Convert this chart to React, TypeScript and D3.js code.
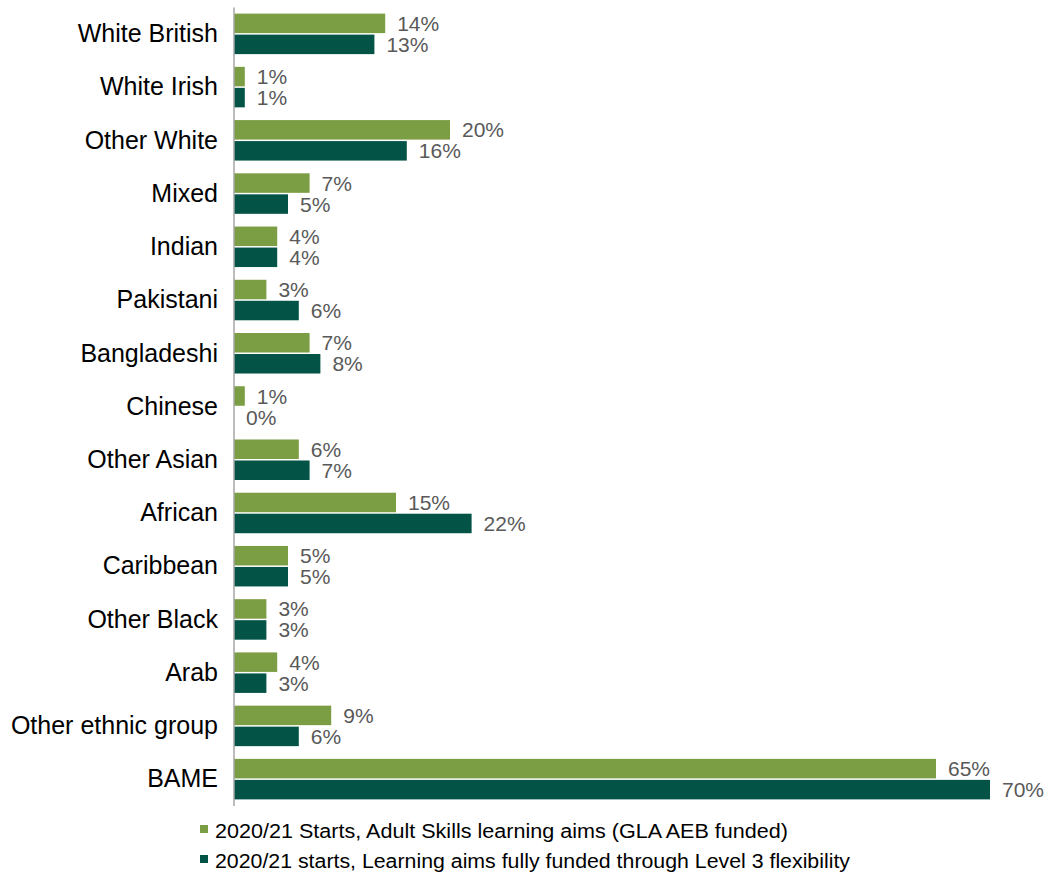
import React from "react";
import * as d3 from "d3";

const categories = [
  "White British", "White Irish", "Other White", "Mixed", "Indian", "Pakistani",
  "Bangladeshi", "Chinese", "Other Asian", "African", "Caribbean", "Other Black",
  "Arab", "Other ethnic group", "BAME",
];
const adultSkills = [14, 1, 20, 7, 4, 3, 7, 1, 6, 15, 5, 3, 4, 9, 65];
const level3 = [13, 1, 16, 5, 4, 6, 8, 0, 7, 22, 5, 3, 3, 6, 70];
const seriesNames = [
  "2020/21 Starts, Adult Skills learning aims (GLA AEB funded)",
  "2020/21 starts, Learning aims fully funded through Level 3 flexibility",
];
const legendWidths = [573, 635];
const colors = ["#7B9D43", "#035446"];

export default function App() {
  const W = 1047, H = 877;
  const x0 = 234;
  const x = d3.scaleLinear().domain([0, 70]).range([x0, 990]);
  const y = d3.scaleBand<string>().domain(categories).range([7.5, 806]).padding(0);
  const font = "Arial, 'Liberation Sans', sans-serif";
  const barH = 19.5;
  return (
    <svg width={W} height={H} style={{ position: "absolute", left: 0, top: 0, display: "block" }} fontFamily={font}>
      <rect width={W} height={H} fill="#fff" />
      {categories.map((c, i) => {
        const cy = (y(c) as number) + y.bandwidth() / 2;
        const vals = [adultSkills[i], level3[i]];
        return (
          <g key={c}>
            <text x={218} y={cy + 8} textAnchor="end" fontSize={25} fill="#000">{c}</text>
            {vals.map((v, k) => {
              const by = k === 0 ? cy - 20.5 : cy + 0.5;
              return (
                <g key={k}>
                  {v > 0 && <rect x={x0} y={by} width={x(v) - x0} height={barH} fill={colors[k]} />}
                  <text x={x(v) + 12} y={by + barH / 2 + 7.5} fontSize={21} fill="#595959">{v}%</text>
                </g>
              );
            })}
          </g>
        );
      })}
      <line x1={x0} x2={x0} y1={7.5} y2={806} stroke="#A6A6A6" strokeWidth={1.5} />
      {seriesNames.map((s, k) => (
        <g key={s}>
          <rect x={200} y={825 + k * 30} width={8} height={8} fill={colors[k]} />
          <text x={215} y={837.5 + k * 30} fontSize={19.5} fill="#000" textLength={legendWidths[k]} lengthAdjust="spacingAndGlyphs">{s}</text>
        </g>
      ))}
    </svg>
  );
}
